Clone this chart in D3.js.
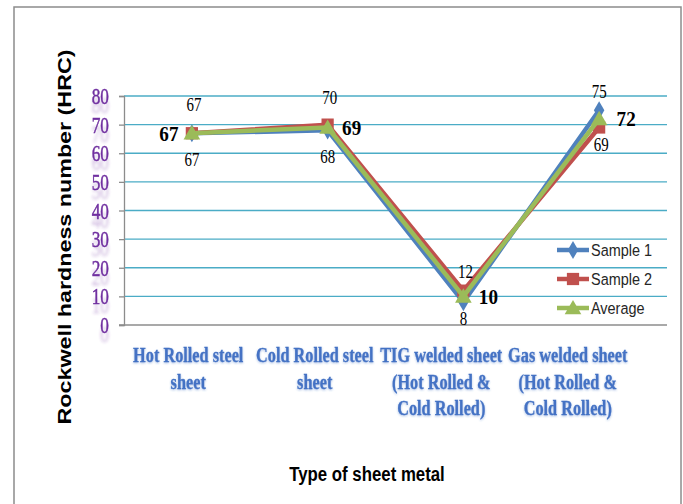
<!DOCTYPE html>
<html>
<head>
<meta charset="utf-8">
<script src="https://cdn.jsdelivr.net/npm/d3@7"></script>
<style>
  html, body { margin: 0; padding: 0; background: #fff; }
  svg { display: block; }
</style>
</head>
<body>
<svg id="chart" width="683" height="504"></svg>
<script>
// Rockwell hardness (HRC) by sheet type
const categories = [
  ["Hot Rolled steel", "sheet"],
  ["Cold Rolled steel", "sheet"],
  ["TIG welded sheet", "(Hot Rolled &", "Cold Rolled)"],
  ["Gas welded sheet", "(Hot Rolled &", "Cold Rolled)"]
];
const sample1 = [67, 68, 8, 75];
const sample2 = [67, 70, 12, 69];
const average = [67, 69, 10, 72];
const yTicks = [0, 10, 20, 30, 40, 50, 60, 70, 80];
const seriesNames = ["Sample 1", "Sample 2", "Average"];

const svg = d3.select("#chart");
const defs = svg.append("defs");

// soft glow under the coloured axis text
function shadowFilter(id, blur, dy, alpha) {
  const f = defs.append("filter").attr("id", id)
    .attr("x", "-20%").attr("y", "-40%").attr("width", "140%").attr("height", "200%");
  f.append("feGaussianBlur").attr("in", "SourceGraphic").attr("stdDeviation", blur).attr("result", "b");
  f.append("feOffset").attr("in", "b").attr("dy", dy).attr("result", "o");
  f.append("feComponentTransfer").attr("in", "o").attr("result", "s")
    .append("feFuncA").attr("type", "linear").attr("slope", alpha);
  const m = f.append("feMerge");
  m.append("feMergeNode").attr("in", "s");
  m.append("feMergeNode").attr("in", "SourceGraphic");
}
shadowFilter("glow", 1.2, 1, 0.45);
shadowFilter("reflect", 1.6, 9, 0.3);

// outer frame
svg.append("rect")
  .attr("x", 14).attr("y", 7).attr("width", 667).attr("height", 520)
  .attr("fill", "none").attr("stroke", "#8c8c8c").attr("stroke-width", 1.5);

const plot = { left: 124, right: 667, top: 96, bottom: 325 };

const x = d3.scaleBand()
  .domain(d3.range(categories.length))
  .range([plot.left, plot.right]);
const xLabel = d3.scaleBand()
  .domain(d3.range(categories.length))
  .range([125, 631]);
const y = d3.scaleLinear().domain([0, 80]).range([plot.bottom, plot.top]);
const cx = i => x(i) + x.bandwidth() / 2;

// horizontal text squeeze helper
function label(g, px, py, str, o) {
  return g.append("text")
    .attr("transform", `translate(${px},${py}) scale(${o.sx || 1},1)`)
    .attr("text-anchor", o.anchor || "middle")
    .attr("font-family", o.family || "'Liberation Serif', serif")
    .attr("font-size", o.size)
    .attr("font-weight", o.weight || "normal")
    .attr("fill", o.fill || "#000")
    .text(str);
}

// gridlines
svg.append("g")
  .selectAll("line")
  .data(yTicks.filter(d => d > 0))
  .join("line")
  .attr("x1", plot.left).attr("x2", plot.right)
  .attr("y1", d => y(d)).attr("y2", d => y(d))
  .attr("stroke", "#4bacc6").attr("stroke-width", 1.3);

// y axis
const yAxis = svg.append("g")
  .attr("transform", `translate(${plot.left},0)`)
  .call(d3.axisLeft(y).tickValues(yTicks).tickSize(5).tickFormat(""));
yAxis.select(".domain").attr("stroke", "#8c8c8c").attr("stroke-width", 1.3);
yAxis.selectAll(".tick line").attr("stroke", "#8c8c8c").attr("stroke-width", 1.3);

// x axis baseline
const xAxis = svg.append("g")
  .attr("transform", `translate(0,${plot.bottom})`)
  .call(d3.axisBottom(x).tickSize(0).tickFormat(""));
xAxis.select(".domain").attr("stroke", "#8c8c8c").attr("stroke-width", 1.3)
  .attr("d", `M${plot.left - 5},0H${plot.right}`);

// y tick labels
const yl = svg.append("g").attr("filter", "url(#reflect)");
yTicks.forEach(v => {
  label(yl, 109, y(v) + 8, String(v), { size: 24, sx: 0.72, anchor: "end", fill: "#7030a0" })
    .attr("stroke", "#7030a0").attr("stroke-width", 0.5);
});

// category labels
const xl = svg.append("g").attr("filter", "url(#glow)");
categories.forEach((lines, i) => {
  lines.forEach((ln, j) => {
    label(xl, xLabel(i) + xLabel.bandwidth() / 2, 362 + j * 26.5, ln,
      { size: 22, sx: 0.74, weight: "bold", fill: "#4472c4" })
      .attr("stroke", "#4472c4").attr("stroke-width", 0.3);
  });
});

// series
const colors = ["#4f81bd", "#c0504d", "#9bbb59"];
const data = [sample1, sample2, average];
const line = d3.line().x((d, i) => cx(i)).y(d => y(d));

const symbols = [
  d3.symbol().type(d3.symbolDiamond).size(95),
  d3.symbol().type(d3.symbolSquare).size(150),
  d3.symbol().type(d3.symbolTriangle).size(120)
];

data.forEach((vals, s) => {
  const g = svg.append("g");
  g.append("path")
    .datum(vals)
    .attr("d", line)
    .attr("fill", "none")
    .attr("stroke", colors[s])
    .attr("stroke-width", 4.5)
    .attr("stroke-linejoin", "round");
  g.selectAll("path.m")
    .data(vals)
    .join("path")
    .attr("class", "m")
    .attr("transform", (d, i) => `translate(${cx(i)},${y(d) + (s === 2 ? 1.5 : 0)})`)
    .attr("d", symbols[s]())
    .attr("fill", colors[s]);
});

// value labels: vertical offsets for the sample series, side offsets for the average
const s1Dy = [27, 27, 17, -18];
const s2Dy = [-28, -27, -19, 18];
const avgDx = [-23, 24, 25, 27];
const vl = svg.append("g");
sample1.forEach((v, i) => {
  label(vl, cx(i), y(v) + s1Dy[i] + 6, String(v), { size: 18, sx: 0.83 });
});
sample2.forEach((v, i) => {
  label(vl, cx(i) + 2, y(v) + s2Dy[i] + 6, String(v), { size: 18, sx: 0.83 });
});
average.forEach((v, i) => {
  label(vl, cx(i) + avgDx[i], y(v) + 7.5, String(v), { size: 22, sx: 0.87, weight: "bold" });
});

// legend
const lg = svg.append("g");
seriesNames.forEach((name, s) => {
  const ly = 250 + s * 29;
  lg.append("line")
    .attr("x1", 557).attr("x2", 589).attr("y1", ly).attr("y2", ly)
    .attr("stroke", colors[s]).attr("stroke-width", 4.5);
  lg.append("path")
    .attr("transform", `translate(573,${ly + (s === 2 ? 1.5 : 0)})`)
    .attr("d", symbols[s]())
    .attr("fill", colors[s]);
  label(lg, 591, ly + 6, name,
    { size: 17, sx: 0.85, anchor: "start", family: "'Liberation Sans', Arial, sans-serif", fill: "#262626" });
});

// axis titles
svg.append("text")
  .attr("transform", "translate(71,237) rotate(-90)")
  .attr("text-anchor", "middle")
  .attr("font-family", "'Liberation Sans', Arial, sans-serif")
  .attr("font-size", 19)
  .attr("font-weight", "bold")
  .attr("textLength", 375)
  .attr("lengthAdjust", "spacingAndGlyphs")
  .text("Rockwell hardness number  (HRC)");

label(svg, 367, 481, "Type of sheet metal",
  { size: 21, sx: 0.8, weight: "bold", family: "'Liberation Sans', Arial, sans-serif" });
</script>
</body>
</html>
